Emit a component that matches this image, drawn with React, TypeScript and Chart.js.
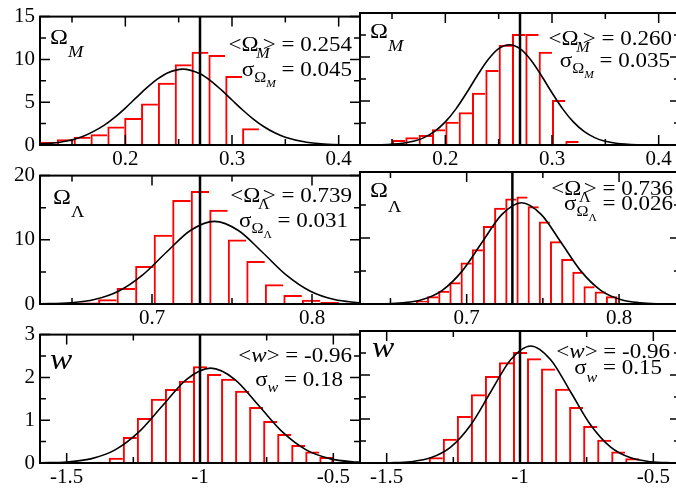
import React, { useEffect, useRef } from 'react';
import { Chart, registerables } from 'chart.js';

Chart.register(...registerables);

// ---------------- data ----------------
const omegaMTrue = 0.27;
const omegaLTrue = 0.73;
const wTrue = -1;

// x tick values / labels
const omegaMTicks = [0.2, 0.3, 0.4];
const omegaMTickLabels = ['0.2', '0.3', '0.4'];
const omegaMMinorTicks = [0.15, 0.25, 0.35];
const omegaLTicks = [0.7, 0.8];
const omegaLTickLabels = ['0.7', '0.8'];
const omegaLMinorTicks = [0.65, 0.75];
const wTicks = [-1.5, -1, -0.5];
const wTickLabels = ['-1.5', '-1', '-0.5'];
const wMinorTicks = [-1.25, -0.75];

// y tick values / labels
const omegaMYTicks = [0, 5, 10, 15];
const omegaMYTickLabels = ['0', '5', '10', '15'];
const omegaMYMinor = [2.5, 7.5, 12.5];
const omegaLYTicks = [0, 10, 20];
const omegaLYTickLabels = ['0', '10', '20'];
const omegaLYMinor = [5, 15];
const wYTicks = [0, 1, 2, 3];
const wYTickLabels = ['0', '1', '2', '3'];
const wYMinor = [0.5, 1.5, 2.5];

// Omega_M, left panel
const omegaMBinsA = [0.12789, 0.14368, 0.15947, 0.17526, 0.19105, 0.20684, 0.22263, 0.23842, 0.25421, 0.27, 0.28579, 0.30158, 0.31737, 0.33316, 0.34895, 0.36474, 0.38053, 0.39632, 0.41211];
const omegaMHistA = [0.38, 0.68, 0.95, 1.25, 2.16, 3.14, 4.85, 7.27, 9.43, 10.9, 10.5, 8.07, 1.97, 0.1, 0.08, 0.04, 0.04, 0.04, 0.04];
const omegaMCurveXA = [0.12, 0.14, 0.16, 0.18, 0.19, 0.2, 0.21, 0.22, 0.23, 0.24, 0.254, 0.27, 0.28, 0.29, 0.3, 0.31, 0.32, 0.33, 0.34, 0.35, 0.37, 0.39, 0.42];
const omegaMCurveYA = [0.105, 0.358, 1.0, 2.294, 3.225, 4.316, 5.497, 6.665, 7.69, 8.447, 8.866, 8.323, 7.503, 6.438, 5.258, 4.087, 3.024, 2.13, 1.428, 0.911, 0.32, 0.092, 0.01];

// Omega_M, right panel
const omegaMBinsB = [0.15625, 0.16875, 0.18125, 0.19375, 0.20625, 0.21875, 0.23125, 0.24375, 0.25625, 0.26875, 0.28125, 0.29375, 0.30625, 0.31875, 0.33125, 0.34375, 0.35625, 0.36875, 0.38125, 0.39375];
const omegaMHistB = [0.57, 0.87, 1.14, 1.78, 2.65, 3.71, 5.95, 8.52, 11.4, 12.6, 12.6, 10.6, 5.11, 0.45, 0.05, 0.05, 0.04, 0.04, 0.03, 0.03];
const omegaMCurveXB = [0.12, 0.14, 0.16, 0.17, 0.18, 0.19, 0.2, 0.21, 0.22, 0.23, 0.24, 0.25, 0.26, 0.27, 0.28, 0.29, 0.3, 0.31, 0.32, 0.33, 0.34, 0.35, 0.36, 0.38, 0.4, 0.42];
const omegaMCurveYB = [0.004, 0.032, 0.192, 0.418, 0.836, 1.543, 2.623, 4.108, 5.932, 7.894, 9.681, 10.942, 11.398, 10.942, 9.681, 7.894, 5.932, 4.108, 2.623, 1.543, 0.836, 0.418, 0.192, 0.032, 0.004, 0.0];

// Omega_Lambda, left panel
const omegaLBinsA = [0.63737, 0.64895, 0.66053, 0.67211, 0.68368, 0.69526, 0.70684, 0.71842, 0.73, 0.74158, 0.75316, 0.76474, 0.77632, 0.78789, 0.79947, 0.81105, 0.82263, 0.83421];
const omegaLHistA = [0.05, 0.08, 0.25, 0.75, 2.5, 5.9, 10.8, 16.2, 17.6, 14.7, 10.05, 6.7, 3.07, 1.41, 0.65, 0.3, 0.15, 0.05];
const omegaLCurveXA = [0.63, 0.649, 0.664, 0.679, 0.694, 0.709, 0.724, 0.739, 0.754, 0.769, 0.784, 0.799, 0.814, 0.83];
const omegaLCurveYA = [0.027, 0.19, 0.69, 1.978, 4.487, 8.057, 11.447, 12.869, 11.447, 8.057, 4.487, 1.978, 0.69, 0.173];

// Omega_Lambda, right panel
const omegaLBinsB = [0.663, 0.67033, 0.67767, 0.685, 0.69233, 0.69967, 0.707, 0.71433, 0.72167, 0.729, 0.73633, 0.74367, 0.751, 0.75833, 0.76567, 0.773, 0.78033, 0.78767, 0.795];
const omegaLHistB = [0.15, 0.5, 1.16, 2.0, 3.3, 6.3, 8.3, 11.8, 14.6, 16.0, 16.3, 14.8, 12.5, 9.5, 6.8, 4.9, 2.7, 1.9, 1.16];
const omegaLCurveXB = [0.63, 0.645, 0.658, 0.671, 0.684, 0.697, 0.71, 0.723, 0.736, 0.749, 0.762, 0.775, 0.788, 0.801, 0.814, 0.827, 0.84];
const omegaLCurveYB = [0.004, 0.034, 0.171, 0.674, 2.077, 4.982, 9.307, 13.541, 15.344, 13.541, 9.307, 4.982, 2.077, 0.674, 0.171, 0.034, 0.005];

// w, both panels share bins
const wBins = [-1.47368, -1.42105, -1.36842, -1.31579, -1.26316, -1.21053, -1.15789, -1.10526, -1.05263, -1.0, -0.94737, -0.89474, -0.84211, -0.78947, -0.73684, -0.68421, -0.63158, -0.57895, -0.52632];
const wHistA = [0.01, 0.02, 0.03, 0.12, 0.61, 1.05, 1.5, 1.73, 1.92, 2.26, 2.08, 1.97, 1.69, 1.31, 0.98, 0.68, 0.42, 0.27, 0.14];
const wCurveXA = [-1.6, -1.5, -1.41, -1.32, -1.23, -1.14, -1.05, -0.96, -0.87, -0.78, -0.69, -0.6, -0.51, -0.42, -0.4];
const wCurveYA = [0.004, 0.025, 0.097, 0.3, 0.72, 1.344, 1.956, 2.216, 1.956, 1.344, 0.72, 0.3, 0.097, 0.025, 0.018];
const wHistB = [0.01, 0.01, 0.02, 0.13, 0.55, 1.07, 1.56, 1.98, 2.29, 2.52, 2.38, 2.15, 1.69, 1.27, 0.84, 0.53, 0.26, 0.11, 0.03];
const wCurveXB = [-1.6, -1.56, -1.485, -1.41, -1.335, -1.26, -1.185, -1.11, -1.035, -0.96, -0.885, -0.81, -0.735, -0.66, -0.585, -0.51, -0.435, -0.4];
const wCurveYB = [0.0, 0.001, 0.006, 0.03, 0.117, 0.36, 0.864, 1.613, 2.347, 2.66, 2.347, 1.613, 0.864, 0.36, 0.117, 0.03, 0.006, 0.003];

// ---------------- styling / layout ----------------
const SERIF = '"Liberation Serif", "Times New Roman", serif';
const SX = 1.15; // horizontal stretch of annotation text
const PLOT_W = 320;
const PLOT_H = 132;
const PAD_TOP = 14;
const XAXIS_H = 28;
const YAXIS_W = 40;
const MAJOR = 10;
const MINOR = 6;

type Seg = { t: string; size?: number; italic?: boolean; dy?: number; dx?: number };
type TextItem = { segs: Seg[]; x: number; y: number; anchor: 'left' | 'right' };

const fontOf = (s: Seg) => `${s.italic ? 'italic ' : ''}${s.size ?? 20}px ${SERIF}`;

function drawRich(ctx: CanvasRenderingContext2D, it: TextItem, a: any) {
  ctx.save();
  ctx.fillStyle = '#000';
  ctx.textBaseline = 'alphabetic';
  ctx.textAlign = 'left';
  const ws: number[] = [];
  let total = 0;
  for (const s of it.segs) {
    ctx.font = fontOf(s);
    const w = ctx.measureText(s.t).width;
    ws.push(w);
    total += w + (s.dx ?? 0);
  }
  const bx = it.anchor === 'left' ? a.left + it.x : a.right + it.x - total * SX;
  ctx.translate(bx, a.top + it.y);
  ctx.scale(SX, 1);
  let cx = 0;
  it.segs.forEach((s, i) => {
    cx += s.dx ?? 0;
    ctx.font = fontOf(s);
    ctx.fillText(s.t, cx, s.dy ?? 0);
    cx += ws[i];
  });
  ctx.restore();
}

const meanSegs = (sub: string, subItalic: boolean, val: string): Seg[] => [
  { t: '<Ω', size: 20 },
  { t: sub, size: 14, italic: subItalic, dy: 7, dx: -2 },
  { t: '>', size: 20, dx: -6 },
  { t: ' = ' + val, size: 20 },
];
const sigmaSegs = (sub: string, subItalic: boolean, val: string): Seg[] => [
  { t: 'σ', size: 20 },
  { t: 'Ω', size: 14, dy: 6 },
  { t: sub, size: 10, italic: subItalic, dy: 11 },
  { t: ' = ' + val, size: 20 },
];
const wMeanSegs = (val: string): Seg[] => [
  { t: '<', size: 20 },
  { t: 'w', size: 20, italic: true },
  { t: '>', size: 20 },
  { t: ' = ' + val, size: 20 },
];
const wSigmaSegs = (val: string, dy: number): Seg[] => [
  { t: 'σ', size: 20 },
  { t: 'w', size: 14, italic: true, dy },
  { t: ' = ' + val, size: 20 },
];

type PanelCfg = {
  key: string;
  plotLeft: number;
  plotTop: number;
  showY: boolean;
  xMin: number; xMax: number; yMin: number; yMax: number;
  xTicks: number[]; xLabels: string[]; xMinor: number[];
  yTicks: number[]; yLabels: string[]; yMinor: number[];
  bins: number[]; hist: number[]; curveX: number[]; curveY: number[];
  trueValue: number;
  texts: TextItem[];
};

const panels: PanelCfg[] = [
  {
    key: 'omA', plotLeft: 40, plotTop: 13, showY: true,
    xMin: 0.12, xMax: 0.42, yMin: 0, yMax: 15,
    xTicks: omegaMTicks, xLabels: omegaMTickLabels, xMinor: omegaMMinorTicks,
    yTicks: omegaMYTicks, yLabels: omegaMYTickLabels, yMinor: omegaMYMinor,
    bins: omegaMBinsA, hist: omegaMHistA, curveX: omegaMCurveXA, curveY: omegaMCurveYA, trueValue: omegaMTrue,
    texts: [
      { segs: [{ t: 'Ω', size: 21 }, { t: 'M', size: 16, italic: true, dy: 13 }], x: 10, y: 27, anchor: 'left' },
      { segs: meanSegs('M', true, '0.254'), x: -8, y: 34, anchor: 'right' },
      { segs: sigmaSegs('M', true, '0.045'), x: -8, y: 59, anchor: 'right' },
    ],
  },
  {
    key: 'omB', plotLeft: 360, plotTop: 13, showY: false,
    xMin: 0.12, xMax: 0.42, yMin: 0, yMax: 15,
    xTicks: omegaMTicks, xLabels: omegaMTickLabels, xMinor: omegaMMinorTicks,
    yTicks: omegaMYTicks, yLabels: omegaMYTickLabels, yMinor: omegaMYMinor,
    bins: omegaMBinsB, hist: omegaMHistB, curveX: omegaMCurveXB, curveY: omegaMCurveYB, trueValue: omegaMTrue,
    texts: [
      { segs: [{ t: 'Ω', size: 21 }, { t: 'M', size: 16, italic: true, dy: 13 }], x: 10, y: 25, anchor: 'left' },
      { segs: meanSegs('M', true, '0.260'), x: -8, y: 32, anchor: 'right' },
      { segs: sigmaSegs('M', true, '0.035'), x: -10, y: 54, anchor: 'right' },
    ],
  },
  {
    key: 'olA', plotLeft: 40, plotTop: 172, showY: true,
    xMin: 0.63, xMax: 0.83, yMin: 0, yMax: 20,
    xTicks: omegaLTicks, xLabels: omegaLTickLabels, xMinor: omegaLMinorTicks,
    yTicks: omegaLYTicks, yLabels: omegaLYTickLabels, yMinor: omegaLYMinor,
    bins: omegaLBinsA, hist: omegaLHistA, curveX: omegaLCurveXA, curveY: omegaLCurveYA, trueValue: omegaLTrue,
    texts: [
      { segs: [{ t: 'Ω', size: 21 }, { t: 'Λ', size: 16, dy: 13 }], x: 13, y: 28, anchor: 'left' },
      { segs: meanSegs('Λ', false, '0.739'), x: -8, y: 26, anchor: 'right' },
      { segs: sigmaSegs('Λ', false, '0.031'), x: -12, y: 51, anchor: 'right' },
    ],
  },
  {
    key: 'olB', plotLeft: 360, plotTop: 172, showY: false,
    xMin: 0.63, xMax: 0.84, yMin: 0, yMax: 20,
    xTicks: omegaLTicks, xLabels: omegaLTickLabels, xMinor: omegaLMinorTicks,
    yTicks: omegaLYTicks, yLabels: omegaLYTickLabels, yMinor: omegaLYMinor,
    bins: omegaLBinsB, hist: omegaLHistB, curveX: omegaLCurveXB, curveY: omegaLCurveYB, trueValue: omegaLTrue,
    texts: [
      { segs: [{ t: 'Ω', size: 21 }, { t: 'Λ', size: 16, dy: 15 }], x: 10, y: 25, anchor: 'left' },
      { segs: meanSegs('Λ', false, '0.736'), x: -7, y: 23, anchor: 'right' },
      { segs: sigmaSegs('Λ', false, '0.026'), x: -7, y: 38, anchor: 'right' },
    ],
  },
  {
    key: 'wA', plotLeft: 40, plotTop: 331, showY: true,
    xMin: -1.6, xMax: -0.4, yMin: 0, yMax: 3,
    xTicks: wTicks, xLabels: wTickLabels, xMinor: wMinorTicks,
    yTicks: wYTicks, yLabels: wYTickLabels, yMinor: wYMinor,
    bins: wBins, hist: wHistA, curveX: wCurveXA, curveY: wCurveYA, trueValue: wTrue,
    texts: [
      { segs: [{ t: 'w', size: 29, italic: true }], x: 10, y: 34, anchor: 'left' },
      { segs: wMeanSegs('-0.96'), x: -8, y: 27, anchor: 'right' },
      { segs: wSigmaSegs('0.18', 6), x: -17, y: 51, anchor: 'right' },
    ],
  },
  {
    key: 'wB', plotLeft: 360, plotTop: 331, showY: false,
    xMin: -1.6, xMax: -0.4, yMin: 0, yMax: 3,
    xTicks: wTicks, xLabels: wTickLabels, xMinor: wMinorTicks,
    yTicks: wYTicks, yLabels: wYTickLabels, yMinor: wYMinor,
    bins: wBins, hist: wHistB, curveX: wCurveXB, curveY: wCurveYB, trueValue: wTrue,
    texts: [
      { segs: [{ t: 'w', size: 29, italic: true }], x: 12, y: 26, anchor: 'left' },
      { segs: wMeanSegs('-0.96'), x: -10, y: 27, anchor: 'right' },
      { segs: wSigmaSegs('0.15', 8), x: -18, y: 43, anchor: 'right' },
    ],
  },
];

function makeDecor(p: PanelCfg) {
  return {
    id: 'decor_' + p.key,
    afterDraw(chart: any) {
      const { ctx, chartArea: a, scales } = chart;
      const xs = scales.x;
      const ys = scales.y;
      ctx.save();
      ctx.strokeStyle = '#000';
      ctx.lineWidth = 1.5;
      ctx.beginPath();
      const xt = (v: number, len: number) => {
        const px = xs.getPixelForValue(v);
        ctx.moveTo(px, a.bottom);
        ctx.lineTo(px, a.bottom - len);
        ctx.moveTo(px, a.top);
        ctx.lineTo(px, a.top + len);
      };
      const yt = (v: number, len: number) => {
        const py = ys.getPixelForValue(v);
        ctx.moveTo(a.left, py);
        ctx.lineTo(a.left + len, py);
        ctx.moveTo(a.right, py);
        ctx.lineTo(a.right - len, py);
      };
      p.xTicks.forEach((v) => xt(v, MAJOR));
      p.xMinor.forEach((v) => xt(v, MINOR));
      p.yTicks.forEach((v) => yt(v, MAJOR));
      p.yMinor.forEach((v) => yt(v, MINOR));
      ctx.stroke();
      ctx.lineWidth = 2;
      ctx.strokeRect(a.left, a.top, a.right - a.left, a.bottom - a.top);
      ctx.restore();
      p.texts.forEach((t) => drawRich(ctx, t, a));
    },
  };
}

function canvasGeom(p: PanelCfg) {
  const leftPad = p.showY ? YAXIS_W : 4;
  const left = p.plotLeft - leftPad;
  const width = leftPad + PLOT_W + 4;
  const top = p.plotTop - PAD_TOP;
  const height = PAD_TOP + PLOT_H + XAXIS_H;
  return { left, top, width, height };
}

function buildConfig(p: PanelCfg): any {
  const bars = p.bins.map((x, i) => ({ x, y: p.hist[i] }));
  const curve = p.curveX.map((x, i) => ({ x, y: p.curveY[i] }));
  const vline = [
    { x: p.trueValue, y: p.yMin },
    { x: p.trueValue, y: p.yMax },
  ];
  const lastBar = bars.length - 1;
  const tickFont = { family: SERIF, size: 21 };
  return {
    type: 'bar',
    data: {
      datasets: [
        {
          type: 'line', data: vline, borderColor: '#000', borderWidth: 2.5,
          pointRadius: 0, tension: 0, order: 0,
        },
        {
          type: 'line', data: curve, borderColor: '#000', borderWidth: 1.6,
          pointRadius: 0, cubicInterpolationMode: 'monotone', order: 1,
        },
        {
          type: 'bar', data: bars, borderColor: '#ff0000', backgroundColor: 'rgba(0,0,0,0)',
          borderWidth: (c: any) =>
            c.dataIndex === lastBar
              ? { top: 2, left: 2, right: 2, bottom: 0 }
              : { top: 2, left: 2, right: 0, bottom: 0 },
          borderSkipped: 'start',
          barPercentage: 1, categoryPercentage: 1, inflateAmount: 0, order: 2,
        },
      ],
    },
    options: {
      animation: false,
      responsive: false,
      maintainAspectRatio: false,
      events: [],
      layout: { padding: { top: PAD_TOP, bottom: 0, left: p.showY ? 0 : 4, right: 4 } },
      plugins: { legend: { display: false }, tooltip: { enabled: false }, title: { display: false } },
      scales: {
        x: {
          type: 'linear', position: 'bottom', min: p.xMin, max: p.xMax, offset: false,
          grid: { display: false, drawTicks: false },
          border: { display: false },
          ticks: {
            font: tickFont, color: '#000', padding: 2, maxRotation: 0, autoSkip: false,
            callback: (_v: any, i: number) => p.xLabels[i],
          },
          afterBuildTicks: (s: any) => { s.ticks = p.xTicks.map((v) => ({ value: v })); },
          afterFit: (s: any) => { s.height = XAXIS_H; },
        },
        y: {
          type: 'linear', position: 'left', min: p.yMin, max: p.yMax, display: p.showY,
          grid: { display: false, drawTicks: false },
          border: { display: false },
          ticks: {
            font: tickFont, color: '#000', padding: 5, autoSkip: false,
            callback: (_v: any, i: number) => p.yLabels[i],
          },
          afterBuildTicks: (s: any) => { s.ticks = p.yTicks.map((v) => ({ value: v })); },
          afterFit: (s: any) => { s.width = p.showY ? YAXIS_W : 0; },
        },
      },
    },
    plugins: [makeDecor(p)],
  };
}

function Panel({ p }: { p: PanelCfg }) {
  const ref = useRef<HTMLCanvasElement | null>(null);
  const g = canvasGeom(p);
  useEffect(() => {
    if (!ref.current) return;
    const chart = new Chart(ref.current, buildConfig(p));
    return () => chart.destroy();
  }, []);
  return (
    <canvas
      ref={ref}
      width={g.width}
      height={g.height}
      style={{ position: 'absolute', left: g.left, top: g.top, width: g.width, height: g.height }}
    />
  );
}

export default function App() {
  return (
    <div
      style={{
        position: 'fixed', left: 0, top: 0, width: 676, height: 494,
        overflow: 'hidden', background: '#ffffff',
      }}
    >
      {panels.map((p) => (
        <Panel key={p.key} p={p} />
      ))}
    </div>
  );
}
